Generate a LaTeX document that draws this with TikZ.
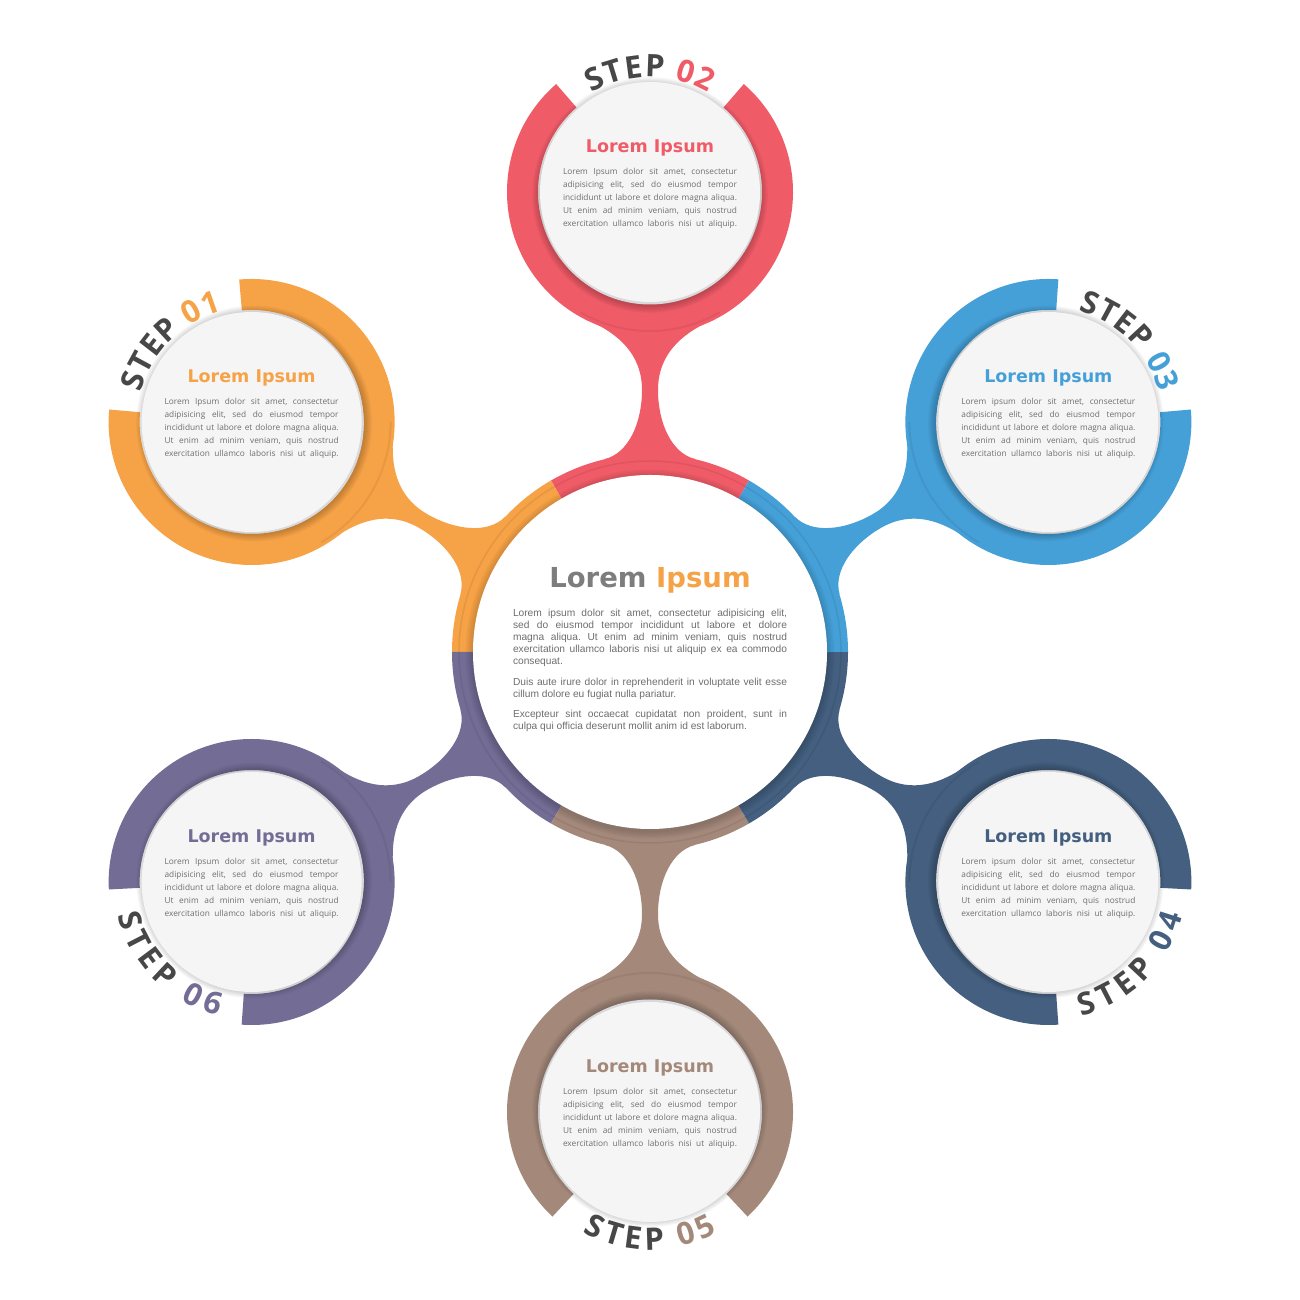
\documentclass[tikz,border=0pt]{standalone}
\usepackage{fontspec}
\setmainfont{Open Sans}
\newfontfamily\verdfont{DejaVu Sans}
\newfontfamily\arialfont{Liberation Sans}
\usetikzlibrary{decorations.text}
\frenchspacing
\definecolor{cOrange}{HTML}{F6A246}
\definecolor{cRed}{HTML}{F05B68}
\definecolor{cBlue}{HTML}{45A0D8}
\definecolor{cNavy}{HTML}{445F7F}
\definecolor{cBrown}{HTML}{A4897B}
\definecolor{cPurple}{HTML}{736D96}
\definecolor{stepgray}{HTML}{474747}
\definecolor{bodygray}{HTML}{6E6E6E}
\definecolor{titlegray}{HTML}{7D7D7D}
\definecolor{diskface}{HTML}{F5F5F6}
\definecolor{diskrim}{HTML}{D9D9DC}
\newcommand\steplbl{\fontsize{31}{31}\selectfont\bfseries}
\newcommand\cjl[1]{\makebox[274pt][s]{#1}}
\newcommand\satline[1]{\makebox[174pt][s]{#1}}
\tikzset{
  sattitle/.style={font=\verdfont\bfseries\fontsize{17.5}{20}\selectfont, inner sep=0pt},
  satbody/.style={font=\fontsize{8.3}{13}\selectfont, text=bodygray, align=left, inner sep=0pt},
  ctitle/.style={font=\verdfont\bfseries\fontsize{27.5}{30}\selectfont, inner sep=0pt},
  cbody/.style={font=\arialfont\fontsize{10.2}{12}\selectfont, text=bodygray, align=left, inner sep=0pt}
}
\def\fw{Ipsum}
% #1 name, #2 angle, #3 colour, #4/#5 ring arc, #6/#7 label arc, #8 label radius, #9 number
\newcommand\sat[9]{%
  \begin{scope}[shift={(#2:460)}]
    \coordinate (#1) at (0,0);
    \fill[#3] (#4:143) arc[start angle=#4, end angle=#5, radius=143]
      -- ({#5}:112) arc[start angle=#5, end angle=#4, radius=112] -- cycle;
    \draw[black, opacity=.06, line width=2pt] ({#2+150}:139) arc[start angle=#2+150, end angle=#2+210, radius=139];
    \foreach \k in {1,...,6} \fill[black, opacity=.035] ({#2+180}:3) circle ({110+\k*1.3});
    \fill[diskrim] ({#2+180}:2.5) circle (110);
    \fill[diskface] (0,0) circle (110);
    \node[sattitle, text=#3] (#1-title) at (0,44) {Lorem Ipsum};
    \node[satbody] (#1-body) at (0,-6) {%
      \satline{Lorem \fw\ dolor sit amet, consectetur}\\
      \satline{adipisicing elit, sed do eiusmod tempor}\\
      \satline{incididunt ut labore et dolore magna aliqua.}\\
      \satline{Ut enim ad minim veniam, quis nostrud}\\
      \satline{exercitation ullamco laboris nisi ut aliquip.}};
    \path[decorate, decoration={text along path, text align={fit to path},
      text={|\steplbl\color{stepgray}|STEP |\steplbl\color{#3}|#9}}]
      (#6:#8) arc[start angle=#6, end angle=#7, radius=#8];
  \end{scope}}
\begin{document}
\begin{tikzpicture}[x=1pt, y=1pt]
\begin{scope}[shift={(650,648)}]
  \fill[white] (-650,-648) rectangle (650,652);
  \useasboundingbox (-650,-648) rectangle (650,652);
  \coordinate (C) at (0,0);
  % necks
  \foreach \a/\c in {90/cRed,150/cOrange,210/cPurple,270/cBrown,330/cNavy,30/cBlue}{
    \begin{scope}[rotate=\a]
      \fill[\c] (193,-45) .. controls (199,-21) and (230,-8) .. (262,-8)
        .. controls (298,-8) and (318,-32) .. (331,-60) -- (331,60)
        .. controls (318,32) and (298,8) .. (262,8)
        .. controls (230,8) and (199,21) .. (193,45) -- cycle;
    \end{scope}}
  % central ring
  \foreach \a/\c in {90/cRed,150/cOrange,210/cPurple,270/cBrown,330/cNavy,30/cBlue}{
    \fill[\c] (0,0) -- ({\a-30}:198) arc[start angle=\a-30, end angle=\a+30, radius=198] -- cycle;}
  \draw[black, opacity=.07, line width=1.5pt] (0,0) circle (191);
  \foreach \k in {1,...,5} \fill[black, opacity=.03] (0,-2) circle ({177+\k*1.5});
  \fill[white] (0,0) circle (177);
  \node[ctitle] (c-title) at (0,72) {\color{titlegray}Lorem \color{cOrange}Ipsum};
  \node[cbody] (c-body) at (0,-18.5) {%
    \cjl{Lorem ipsum dolor sit amet, consectetur adipisicing elit,}\\
    \cjl{sed do eiusmod tempor incididunt ut labore et dolore}\\
    \cjl{magna aliqua. Ut enim ad minim veniam, quis nostrud}\\
    \cjl{exercitation ullamco laboris nisi ut aliquip ex ea commodo}\\
    \makebox[274pt][l]{consequat.}\\[9pt]
    \cjl{Duis aute irure dolor in reprehenderit in voluptate velit esse}\\
    \makebox[274pt][l]{cillum dolore eu fugiat nulla pariatur.}\\[8pt]
    \cjl{Excepteur sint occaecat cupidatat non proident, sunt in}\\
    \makebox[274pt][l]{culpa qui officia deserunt mollit anim id est laborum.}};
  % satellites
  \def\fw{Ipsum}
  \sat{s1}{150}{cOrange}{175}{455}{165}{105}{115}{01}
  \sat{s2}{90}{cRed}{131}{409}{120.5}{59.5}{115}{02}
  \def\fw{ipsum}
  \sat{s3}{30}{cBlue}{86}{365}{75}{15}{115}{03}
  \sat{s4}{-30}{cNavy}{-3}{274}{-76}{-14}{138}{04}
  \def\fw{Ipsum}
  \sat{s5}{270}{cBrown}{313}{587}{241}{299}{138}{05}
  \sat{s6}{210}{cPurple}{266}{543}{194}{256}{138}{06}
\end{scope}
\end{tikzpicture}
\end{document}
